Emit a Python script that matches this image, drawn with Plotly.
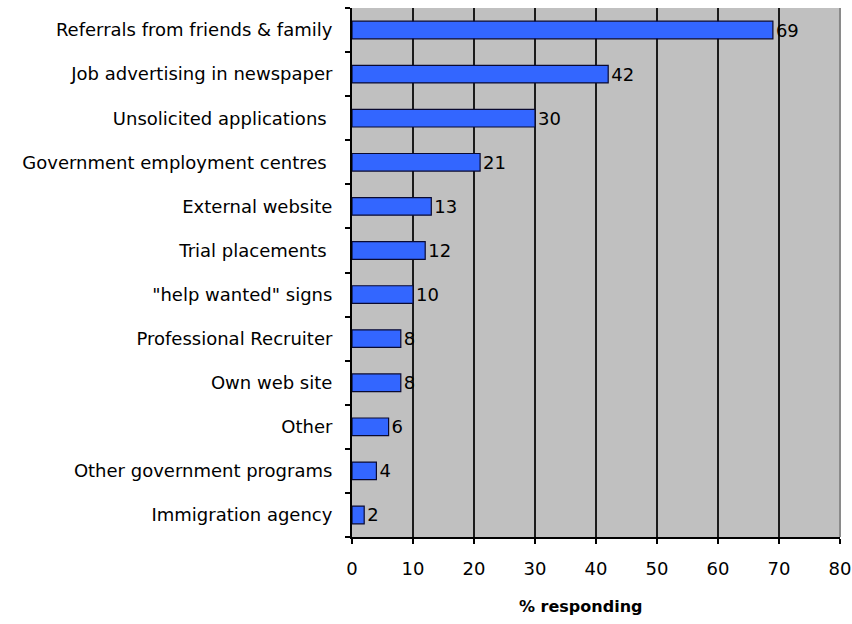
import plotly.graph_objects as go

categories = [
    "Referrals from friends & family",
    "Job advertising in newspaper",
    "Unsolicited applications ",
    "Government employment centres ",
    "External website",
    "Trial placements ",
    "\"help wanted\" signs",
    "Professional Recruiter",
    "Own web site",
    "Other",
    "Other government programs",
    "Immigration agency",
]
values = [69, 42, 30, 21, 13, 12, 10, 8, 8, 6, 4, 2]
x_ticks = [0, 10, 20, 30, 40, 50, 60, 70, 80]

font_family = "DejaVu Sans, Verdana, sans-serif"

fig = go.Figure(
    go.Bar(
        y=categories,
        x=values,
        orientation="h",
        marker=dict(color="#3366FF", line=dict(color="#0a0a30", width=1.2)),
        text=[str(v) for v in values],
        textposition="outside",
        constraintext="none",
        textfont=dict(family=font_family, size=18, color="black"),
        cliponaxis=False,
    )
)

fig.update_layout(
    width=852,
    height=624,
    margin=dict(l=352, r=12, t=8, b=87),
    paper_bgcolor="white",
    plot_bgcolor="#C0C0C0",
    bargap=0.6,
    showlegend=False,
    font=dict(family=font_family, size=18, color="black"),
)

fig.update_xaxes(
    range=[0, 80],
    tickvals=x_ticks,
    automargin=False,
    showgrid=True,
    gridcolor="#1a1a1a",
    gridwidth=2,
    showline=True,
    linecolor="black",
    linewidth=2,
    ticks="outside",
    ticklen=5,
    tickwidth=2,
    tickcolor="black",
    zeroline=False,
    ticklabelstandoff=9,
    tickfont=dict(size=18),
)

fig.update_yaxes(
    categoryorder="array",
    categoryarray=categories[::-1],
    autorange=True,
    automargin=False,
    showline=True,
    linecolor="black",
    linewidth=2,
    ticks="outside",
    tickson="boundaries",
    ticklen=5,
    tickwidth=2,
    tickcolor="black",
    showgrid=False,
    tickfont=dict(size=18),
    ticklabelstandoff=14,
)

fig.add_annotation(
    text="<b>% responding</b>", xref="paper", yref="paper",
    x=0.468, y=-0.132, xanchor="center", yanchor="middle",
    showarrow=False, font=dict(family=font_family, size=16, color="black"),
)

fig.add_shape(
    type="line", xref="paper", yref="paper", x0=1, x1=1, y0=0, y1=1,
    line=dict(color="#8a8a8a", width=2),
)

fig.write_html("out.html")
